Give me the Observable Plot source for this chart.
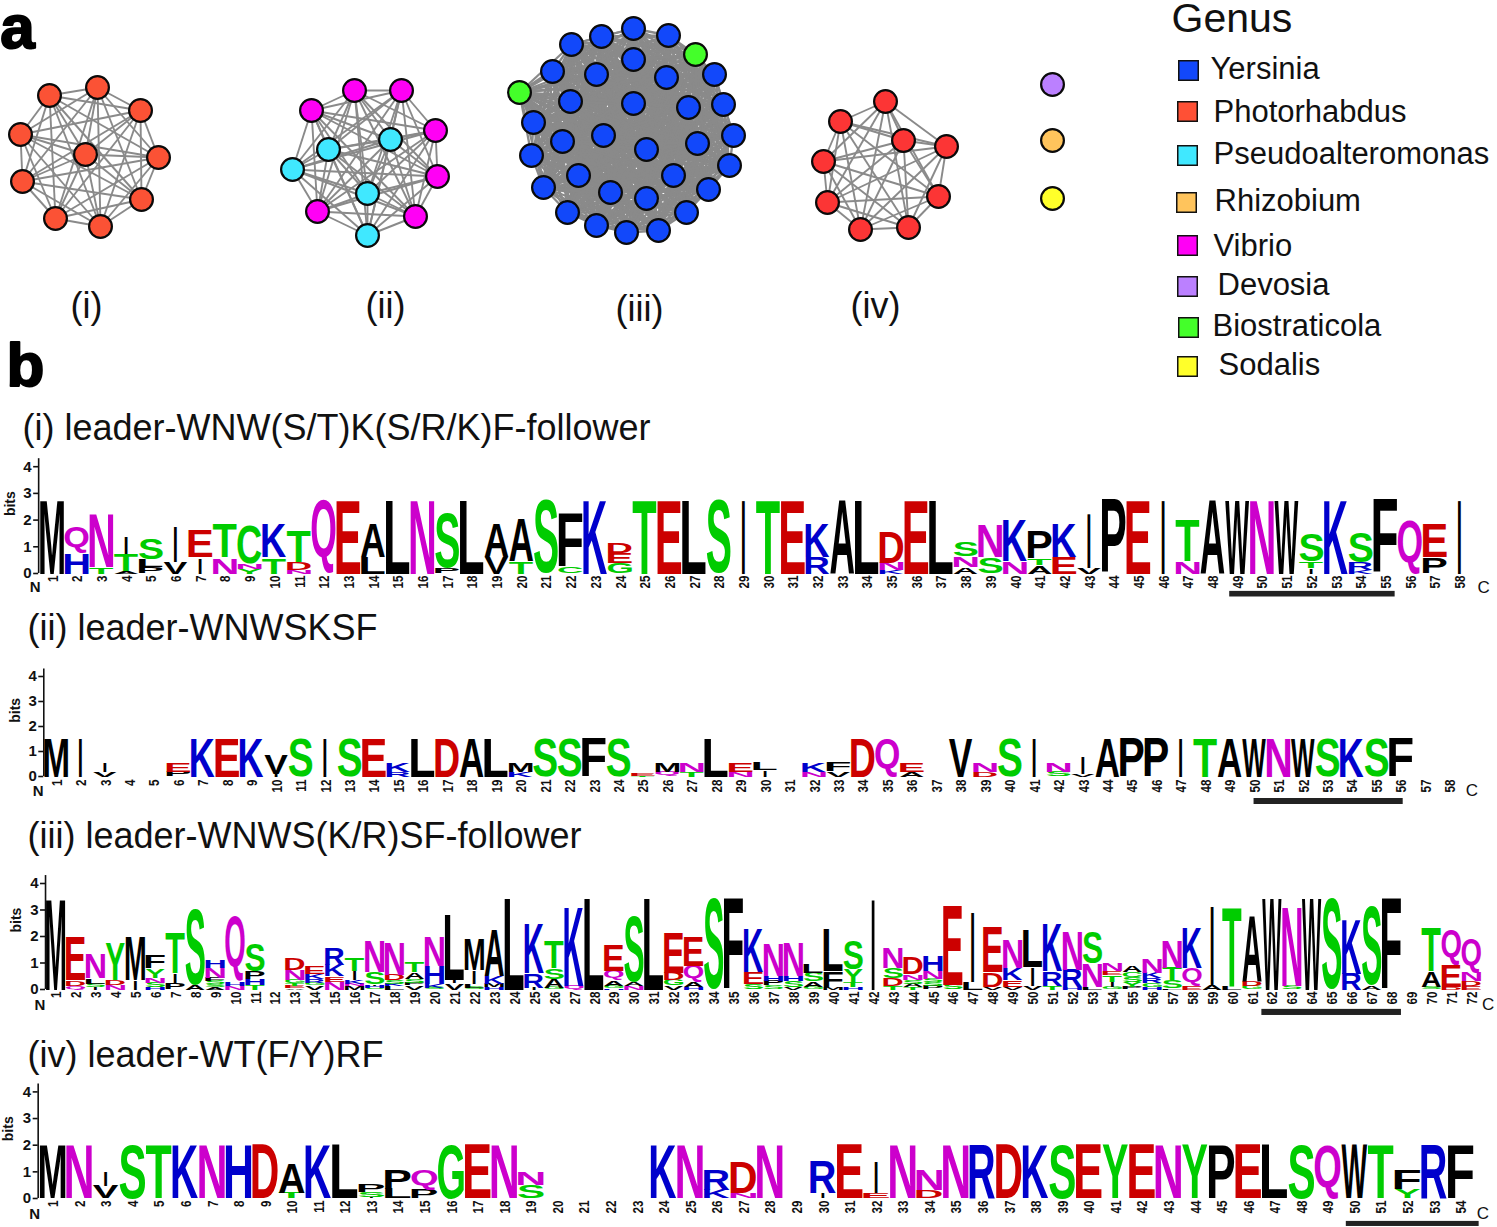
<!DOCTYPE html>
<html><head><meta charset="utf-8">
<style>html,body{margin:0;padding:0;background:#fff;overflow:hidden}#root{position:relative;width:1497px;height:1227px}#root svg{position:absolute;left:0}</style>
<script src="https://cdn.jsdelivr.net/npm/d3@7"></script>
<script src="https://cdn.jsdelivr.net/npm/@observablehq/plot@0.6"></script>
</head><body><div id="root"></div>
<script>
// ---------- network nodes ----------
const netI = [[49,95],[97,87],[140,110],[158,157],[141,199],[100,226],[55,218],[22,181],[20,134],[85,154]];
const netIIvibrio = [[311,110],[354,90],[401,90],[435,130],[437,176],[415,216],[317,211]];
const netIIpseudo = [[367,235],[292,169],[328,149],[390,139],[367,193]];
const netIIIyersinia = [[633,28],[668,35],[714,74],[723,104],[733,135],[729,165],[708,189],[686,212],[658,230],[626,232],[596,225],[567,212],[543,187],[531,155],[533,122],[552,71],[571,44],[601,36],[633,59],[666,77],[596,74],[570,101],[633,103],[688,107],[697,143],[603,135],[562,141],[646,149],[673,175],[578,175],[610,192],[646,198]];
const netIIIbiostr = [[695,54],[519,92]];
const netIV = [[885,101],[946,146],[938,196],[908,227],[860,229],[827,202],[823,161],[840,121],[903,140]];
const singletons = [[1052,84,"Devosia"],[1052,140,"Rhizobium"],[1052,198,"Sodalis"]];

// ---------- legend ----------
const genera = ["Yersinia","Photorhabdus","Pseudoalteromonas","Rhizobium","Vibrio","Devosia","Biostraticola","Sodalis"];
const genusColors = ["#1248fa","#ff5035","#40e8ff","#ffc45c","#ff00f5","#bb80ff","#44ff2a","#ffff2a"];
const legendSwatchX = [1188,1187,1187,1186,1187,1187,1188,1187];
const legendSwatchY = [70,111,155,202,245,286,327,366];
const legendLabelX = [1210,1213,1213,1214,1213,1217,1212,1218];
const legendLabelY = [69,112,154,201,246,285,326,365];

const panelCaptions = [["(i)",86,306],["(ii)",385,306],["(iii)",639,309],["(iv)",875,306]];
const logoTitles = [["(i) leader-WNW(S/T)K(S/R/K)F-follower",22,428],["(ii) leader-WNWSKSF",27,628],["(iii) leader-WNWS(K/R)SF-follower",27,836],["(iv) leader-WT(F/Y)RF",27,1055]];

// ---------- sequence logos: per position, letters bottom to top with height in bits ----------
const logoI = ["M2.75","H.76 Q1","T.24 N2","A.1 T.62 I.65","P.25 L.27 S.8","V.42 I1.33","I.6 E1.02","N.6 T1.25","Y.17 N.2 C1.45","T.6 K1.25","N.13 D.3 T1.14","Q2.75","E2.75","L.6 A1.25","L2.75","N2.75","P.2 S2.06","L2.75","V.6 A1.25","T.45 A1.59","S2.75","C.25 F2.01","K2.75","G.38 E.38 D.4","T2.75","E2.75","L2.75","S2.75","I2.75","T2.75","E2.75","R.6 K1.25","A2.75","L2.75","K.12 N.28 D1.16","E2.75","L2.75","A.25 N.4 S.55","S.6 N1.2","N.45 K1.55","A.3 T.26 P1","E.6 K1.25","V.22 I2.06","P2.75","E2.75","I2.75","N.45 T1.55","A2.75","W2.75","N2.75","W2.75","I.2 T.25 S1.02","K2.75","K.13 R.3 S1.11","F2.75","Q2","P.6 E1.25","I2.75"];
const logoII = ["M1.55","I1.55","V.2 I.37","","","P.2 E.37","K1.55","E1.55","K1.55","I.1 V.74","S1.55","I1.55","S1.55","E1.55","R.2 K.37","L1.55","D1.55","A1.55","L1.55","K.2 M.37","S1.55","S1.55","F1.55","S1.55","T.04 E.1","Q.2 M.37","T.2 N.37","L1.55","N.2 E.37","I.25 L.32","","N.2 K.37","V.2 F.37","D1.55","Q1.55","A.2 E.37","","V1.55","D.2 N.37","S1.55","I1.55","S.2 N.37","V.12 I.68","A1.55","P1.55","P1.55","I1.55","T1.55","A1.55","W1.55","N1.55","W1.55","S1.55","K1.55","S1.55","F1.55","",""];
const logoIII = ["M3.43","Q.14 D.2 E1.66","I.1 S.12 L.2 N.95","N.17 D.2 Y1.39","I.35 M1.65","H.08 S.17 N.2 Y.35 F.5","P.25 I.36 T1.5","A.18 S2.9","A.1 S.1 S.13 F.12 N.38 H.3","N.15 H.15 Q2.44","T.17 H.22 P.3 S1.05","","A.05 E.08 T.1 G.12 N.4 D.45","V.15 G.1 R.15 K.18 E.3","N.3 E.2 K.43 R.6","M.12 N.1 K.12 I.36 T.5","S.05 H.1 I.05 S.45 N1.15","L.12 K.1 S.12 D.22 N1.2","V.15 P.1 S.15 A.25 T.4","S.07 K.13 H.7 N1.1","V.25 I.1 L2.45","S.07 L.15 I.5 M1.15","H.1 M.12 K.3 A1.78","L3.43","I.07 R.55 K1.88","G.07 A.33 S.4 T1","Q.15 K3","L3.43","H.05 G.1 A.2 Q.35 E.94","N.15 A.15 S2.5","L3.43","V.15 G.22 D.27 E1.5","H.1 A.2 Q.6 E1.1","S3.43","F3.43","S.2 E.45 K1.65","S.15 P.17 H.2 N1.23","V.1 S.22 H.2 N1.28","G.1 A.2 S.33 L.32","M.1 F.6 L1.6","H.08 T.2 Y.48 S1.08","I3.43","T.15 D.28 S.4 N.8","T.1 A.12 S.15 N.2 D.6","P.12 S.15 S.13 N.3 H.56","S.17 E2.98","L.3 I2.65","V.1 D.55 E1.71","V.1 E.25 K.45 N1.06","V.15 I.7 L1.39","T.15 R.55 K1.8","H.1 R.65 N1.49","L.1 N.9 S1.2","G.1 I.18 T.25 E.15 N.3","P.1 Y.17 S.2 C.2 A.25","H.1 G.15 R.17 K.22 N.53","L.05 S.3 T.47 N1","E.12 Q.68 K1.5","A.18 I2.97","L.15 T3","G.12 D.18 A2.5","W3.43","S.15 N3","W3.43","S3.43","R.6 K2.08","A.15 S3","F3.43","","S.1 A.59 T1.67","D.1 E.83 Q1.33","E.12 D.2 N.32 Q1.28"];
const logoIV = ["M2","N2","V.47 I.55","S2","T2","K2","N2","H2","D2","T.22 A1.13","K2","L2","I.05 S.2 P.31","L.36 P.72","P.35 Q.72","G2","E2","N2","S.5 N.5","","","","","K2","N2","K.33 R.75","N.2 D1.15","N2","","I.2 R1.18","E2","E.2 I1.15","N2","D.3 N.79","N2","R2","D2","K2","S2","E2","Y2","E2","N2","Y2","P2","E2","L2","S2","Q2","W2","T2","Y.33 F.75","R2","F2"];

const motifSpans = [[48.7,55.4],[50,56.1],[61.5,68.5],[49.7,54.7]];
const bitTicks = [0,1,2,3,4];

// ---------- styles ----------
const letterColor = {S:"#00cc00",T:"#00cc00",Y:"#00cc00",G:"#00cc00",C:"#00cc00",K:"#0000cc",R:"#0000cc",H:"#0000cc",D:"#cc0000",E:"#cc0000",N:"#cc00cc",Q:"#cc00cc"};
const sans = "'Liberation Sans'";
const root = document.getElementById("root");

const pairs = nodes => d3.merge(nodes.map((a,i)=>nodes.slice(i+1).map(b=>[a,b])));
const edgeMark = (nodes,sw) => Plot.link(pairs(nodes),{x1:d=>d[0][0],y1:d=>d[0][1],x2:d=>d[1][0],y2:d=>d[1][1],stroke:"#8a8a8a",strokeWidth:sw});
const nodeMark = (nodes,fill) => Plot.dot(nodes,{x:d=>d[0],y:d=>d[1],r:11.4,fill,stroke:"#0a0a0a",strokeWidth:2.2});
const netIIall = netIIvibrio.concat(netIIpseudo);
const netIIIall = netIIIyersinia.concat(netIIIbiostr);
const color = g => genusColors[genera.indexOf(g)];

const overlay = Plot.plot({
  width:1497,height:1227,margin:0,
  x:{domain:[0,1497],range:[0,1497],axis:null},
  y:{domain:[0,1227],range:[0,1227],axis:null},
  style:{background:"transparent",top:"0px"},
  marks:[
    edgeMark(netI,1.9),edgeMark(netIIall,1.9),edgeMark(netIIIall,2.3),edgeMark(netIV,1.9),
    nodeMark(netI,"#fb5235"),nodeMark(netIIvibrio,color("Vibrio")),nodeMark(netIIpseudo,color("Pseudoalteromonas")),
    nodeMark(netIIIyersinia,color("Yersinia")),nodeMark(netIIIbiostr,color("Biostraticola")),nodeMark(netIV,"#fc3535"),
    ...singletons.map(s=>nodeMark([s],color(s[2]))),
    Plot.dot(genera,{x:(d,i)=>legendSwatchX[i],y:(d,i)=>legendSwatchY[i],symbol:"square",r:11,fill:d=>color(d),stroke:"#111",strokeWidth:1.5}),
    Plot.text(genera,{x:(d,i)=>legendLabelX[i],y:(d,i)=>legendLabelY[i],text:d=>d,textAnchor:"start",fontFamily:sans,fontSize:31,fill:"#111"}),
    Plot.text(["Genus"],{x:[1171],y:[18],text:d=>d,textAnchor:"start",fontFamily:sans,fontSize:41,fill:"#111"}),
    Plot.text(panelCaptions,{x:d=>d[1],y:d=>d[2],text:d=>d[0],fontFamily:sans,fontSize:36,fill:"#111"}),
    Plot.text(logoTitles,{x:d=>d[1],y:d=>d[2],text:d=>d[0],textAnchor:"start",fontFamily:sans,fontSize:36,fill:"#111"}),
    Plot.text([["a",17,28],["b",25,366]],{x:d=>d[1],y:d=>d[2],text:d=>d[0],fontFamily:sans,fontWeight:"bold",fontSize:62,stroke:"#000",strokeWidth:2,fill:"#000"})
  ]
});
root.appendChild(overlay);

// ---------- glyph metrics for stretching each letter to its box ----------
const mctx = document.createElement("canvas").getContext("2d");
mctx.font = "bold 100px 'Liberation Sans'";
const metrics = {};
const glyph = l => metrics[l] || (metrics[l] = (m=>({left:m.actualBoundingBoxLeft,right:m.actualBoundingBoxRight,asc:m.actualBoundingBoxAscent,desc:m.actualBoundingBoxDescent}))(mctx.measureText(l)));

function stack(cols){
  return cols.flatMap((s,i)=>{
    if(!s) return [];
    let y=0;
    return s.split(" ").map(t=>{const r={pos:i+1,letter:t[0],y1:y,y2:y+ +t.slice(1)};y=r.y2;return r;});
  });
}

const condense = (index,scales,values,dim,ctx,next)=>{
  const g = next(index,scales,values,dim,ctx);
  g.querySelectorAll("text").forEach(t=>t.setAttribute("transform",(t.getAttribute("transform")||"")+" scale(.8,1)"));
  return g;
};

function logo(cols,motif,cfg){
  const rows = stack(cols), n = cols.length;
  const height = cfg.above+cfg.below;
  const stretch = (index,scales,values,dim,ctx,next)=>{
    const g = next(index,scales,values,dim,ctx);
    const nodes = Array.from(g.querySelectorAll("text"));
    nodes.forEach((node,j)=>{
      const d = rows[index[j]], m = glyph(d.letter);
      const cw = scales.x(d.pos+.5)-scales.x(d.pos-.5);
      const w = d.letter==="I" ? 3 : cw*0.97;
      const left = scales.x(d.pos)-w/2;
      const top = scales.y(d.y2), bottom = scales.y(d.y1);
      const sx = w/(m.left+m.right), sy = (bottom-top)/(m.asc+m.desc);
      ["x","y","dy"].forEach(a=>node.removeAttribute(a));
      node.setAttribute("transform",`translate(${left+m.left*sx},${bottom-m.desc*sy}) scale(${sx},${sy})`);
    });
    return g;
  };
  const plot = Plot.plot({
    width:1497,height,
    marginLeft:cfg.cx-cfg.cw/2,
    marginRight:1497-(cfg.cx+cfg.cw*(n-.5)),
    marginTop:0,marginBottom:cfg.below,
    x:{domain:[.5,n+.5],axis:null},
    y:{domain:[0,cfg.above/cfg.ppb],axis:null},
    style:{background:"transparent",top:(cfg.y0-cfg.above)+"px",fontFamily:sans},
    marks:[
      Plot.ruleX([.5],{y1:0,y2:4.3,stroke:"#111",strokeWidth:1.6,dx:-cfg.axisGap}),
      Plot.axisY({ticks:bitTicks,tickSize:5,tickPadding:2,tickFormat:d=>d,label:null,fontWeight:"bold",fontSize:15,stroke:"#111",strokeWidth:1.6,fill:"#111",dx:-cfg.axisGap}),
      Plot.text(["bits"],{frameAnchor:"left",y:[2.15],dx:-cfg.axisGap-cfg.bitsGap,text:d=>d,rotate:-90,fontWeight:"bold",fontSize:14,fill:"#111"}),
      Plot.text(d3.range(1,n+1),{x:d=>d,y:()=>0,text:d=>String(d),rotate:-90,textAnchor:"end",dy:cfg.tickGap,dx:1,fontWeight:"bold",fontSize:14.5,fill:"#111",render:condense}),
      Plot.text(["N"],{frameAnchor:"left",y:[cfg.endY],dx:cfg.nDx,text:d=>d,fontWeight:"bold",fontSize:15,fill:"#111"}),
      Plot.text(["C"],{x:[n+.5],y:[cfg.endY],dx:cfg.cDx,text:d=>d,fontSize:17,fill:"#111"}),
      Plot.rect([motif],{x1:d=>d[0],x2:d=>d[1],y1:cfg.motifY[0],y2:cfg.motifY[1],fill:"#222"}),
      Plot.text(rows,{x:d=>d.pos,y:d=>d.y2,text:d=>d.letter,textAnchor:"start",fontWeight:"bold",fontSize:100,fontFamily:sans,fill:d=>letterColor[d.letter]||"#000",render:stretch})
    ]
  });
  root.appendChild(plot);
}

logo(logoI,motifSpans[0],{y0:572.7,ppb:26.7,above:125,below:30,cx:51.5,cw:24.69,axisGap:1,bitsGap:28,tickGap:2,endY:-.53,nDx:-10,cDx:12,motifY:[-.67,-.88]});
logo(logoII,motifSpans[1],{y0:776,ppb:25,above:110,below:35,cx:55.5,cw:24.45,axisGap:0,bitsGap:28,tickGap:3,endY:-.58,nDx:-11,cDx:10,motifY:[-.88,-1.12]});
logo(logoIII,motifSpans[2],{y0:989.3,ppb:26.5,above:115,below:32,cx:55,cw:19.94,axisGap:0,bitsGap:29,tickGap:2,endY:-.58,nDx:-11,cDx:7,motifY:[-.75,-.98]});
logo(logoIV,motifSpans[3],{y0:1198.3,ppb:26.65,above:115,below:28.7,cx:51.9,cw:26.57,axisGap:1,bitsGap:30,tickGap:2,endY:-.58,nDx:-10,cDx:9,motifY:[-.86,-1.05]});
</script></body></html>
